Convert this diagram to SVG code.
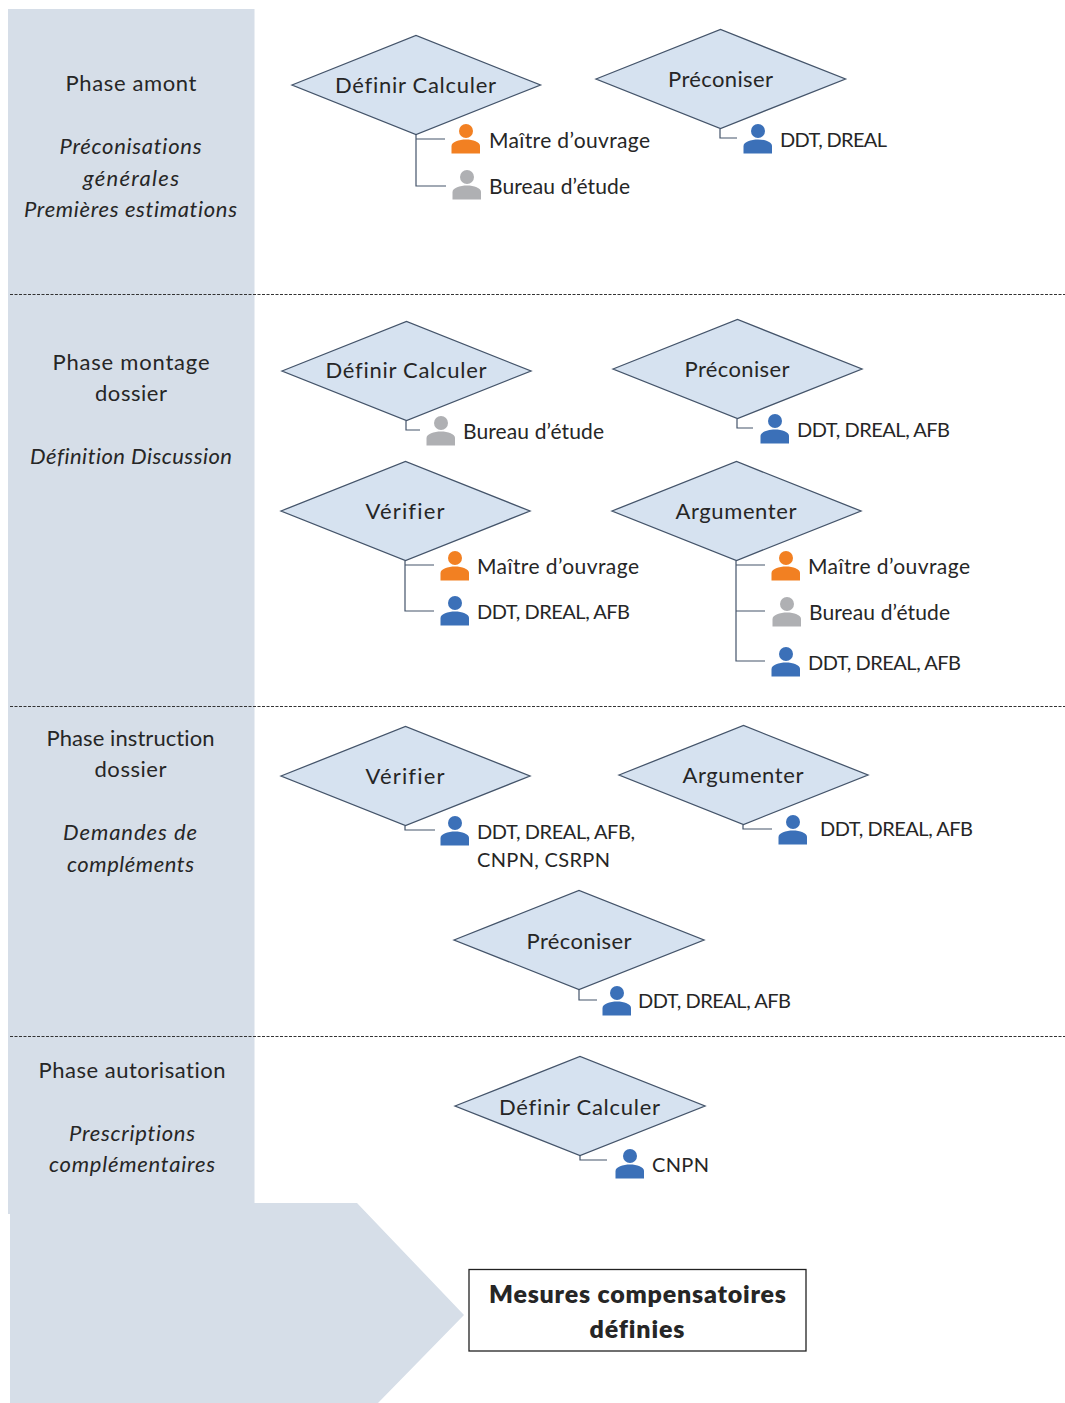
<svg xmlns="http://www.w3.org/2000/svg" xmlns:xlink="http://www.w3.org/1999/xlink" width="1065" height="1403" viewBox="0 0 1065 1403">
<style>
text{font-family:Lato,"Open Sans","Liberation Sans",sans-serif;fill:#262626;font-size:22px;font-variant-ligatures:none}
.c{text-anchor:middle}
.i{font-style:italic;text-anchor:middle}
.l{font-size:21px}
.t{font-size:20px}
.d{fill:#d6e2f0;stroke:#44546a;stroke-width:1.3}
.cn{fill:none;stroke:#44546a;stroke-width:1.2}
.sep{stroke:#333;stroke-width:1;stroke-dasharray:3 1.5;fill:none}
.o{fill:#f28022}.g{fill:#afb0b3}.b{fill:#3b70b8}
</style>
<defs>
<g id="p"><circle cx="0" cy="0" r="7"/><path d="M-14.500,22.500V15C-14.500,11-7,8.500,0,8.500S14,11,14,15V22.500Z"/></g>
</defs>
<g id="bands">
<path d="M8,9H254.500V1203H357L464,1315L378,1403H10V1214H8Z" fill="#d6dee8"/>
<path class="sep" d="M10,294.500H1065M10,706.500H1065M10,1036.500H1065"/>
</g>
<g id="connectors">
<path class="cn" d="M416,135V186H446M416,139H445"/>
<path class="cn" d="M720,129V138H737"/>
<path class="cn" d="M406,421V430H420"/>
<path class="cn" d="M737,419V428H753"/>
<path class="cn" d="M405,561V611H434M405,565H434"/>
<path class="cn" d="M736,561V661H765M736,565H765M736,611H765"/>
<path class="cn" d="M405,826V830H435"/>
<path class="cn" d="M743,825V829H772"/>
<path class="cn" d="M579,990V1000H597"/>
<path class="cn" d="M580,1156V1160H607"/>
</g>
<g id="phase-amont">
<text class="c" x="131" y="91" textLength="131">Phase amont</text>
<text class="i" x="130.500" y="154" textLength="142">Préconisations</text>
<text class="i" x="131" y="186" textLength="96">générales</text>
<text class="i" x="130.500" y="217" textLength="213">Premières estimations</text>
</g>
<g id="phase-montage">
<text class="c" x="131" y="370" textLength="157">Phase montage</text>
<text class="c" x="131" y="401" textLength="72">dossier</text>
<text class="i" x="131" y="464" textLength="202">Définition Discussion</text>
</g>
<g id="phase-instruction">
<text class="c" x="130.500" y="746" textLength="168">Phase instruction</text>
<text class="c" x="130.500" y="777" textLength="72">dossier</text>
<text class="i" x="130" y="840" textLength="134">Demandes de</text>
<text class="i" x="130.500" y="872" textLength="127">compléments</text>
</g>
<g id="phase-autorisation">
<text class="c" x="132" y="1078" textLength="187">Phase autorisation</text>
<text class="i" x="132" y="1141" textLength="126">Prescriptions</text>
<text class="i" x="132" y="1172" textLength="166">complémentaires</text>
</g>
<g id="n1"><path class="d" d="M292,85L416,35.500L540.500,85L416,134.500Z"/><text class="c" x="415.500" y="93" textLength="161">Définir Calculer</text>
<use href="#p" class="o" x="466" y="131"/><text class="l" x="489" y="148" textLength="161">Maître d’ouvrage</text>
<use href="#p" class="g" x="467" y="177"/><text class="l" x="489" y="194" textLength="141">Bureau d’étude</text></g>
<g id="n2"><path class="d" d="M596,79L720.500,29.500L845.500,79L720.500,128.500Z"/><text class="c" x="720.500" y="87" textLength="105">Préconiser</text>
<use href="#p" class="b" x="758" y="131"/><text class="t" x="780" y="147" textLength="107">DDT, DREAL</text></g>
<g id="n3"><path class="d" d="M282,371L406.500,321.500L531,371L406.500,420.500Z"/><text class="c" x="406" y="378" textLength="161">Définir Calculer</text>
<use href="#p" class="g" x="441" y="423"/><text class="l" x="463" y="439" textLength="141">Bureau d’étude</text></g>
<g id="n4"><path class="d" d="M613,369L737.500,319.500L862,369L737.500,418.500Z"/><text class="c" x="737" y="377" textLength="105">Préconiser</text>
<use href="#p" class="b" x="775" y="421"/><text class="t" x="797" y="437" textLength="153">DDT, DREAL, AFB</text></g>
<g id="n5"><path class="d" d="M281,511L405.500,461.500L530,511L405.500,560.500Z"/><text class="c" x="405" y="519" textLength="79">Vérifier</text>
<use href="#p" class="o" x="455" y="558"/><text class="l" x="477" y="574" textLength="162">Maître d’ouvrage</text>
<use href="#p" class="b" x="455" y="603"/><text class="t" x="477" y="619" textLength="153">DDT, DREAL, AFB</text></g>
<g id="n6"><path class="d" d="M612,511L736.500,461.500L861,511L736.500,560.500Z"/><text class="c" x="736" y="519" textLength="121">Argumenter</text>
<use href="#p" class="o" x="786" y="558"/><text class="l" x="808" y="574" textLength="162">Maître d’ouvrage</text>
<use href="#p" class="g" x="787" y="604"/><text class="l" x="809" y="620" textLength="141">Bureau d’étude</text>
<use href="#p" class="b" x="786" y="654"/><text class="t" x="808" y="670" textLength="153">DDT, DREAL, AFB</text></g>
<g id="n7"><path class="d" d="M281,776L405.500,726.500L530,776L405.500,825.500Z"/><text class="c" x="405" y="784" textLength="79">Vérifier</text>
<use href="#p" class="b" x="455" y="823"/><text class="t" x="477" y="839" textLength="158">DDT, DREAL, AFB,</text><text class="t" x="477" y="867" textLength="133">CNPN, CSRPN</text></g>
<g id="n8"><path class="d" d="M619,775L743.500,725.500L868,775L743.500,824.500Z"/><text class="c" x="743" y="783" textLength="121">Argumenter</text>
<use href="#p" class="b" x="793" y="822"/><text class="t" x="820" y="836" textLength="153">DDT, DREAL, AFB</text></g>
<g id="n9"><path class="d" d="M454,940L579,890.500L704,940L579,989.500Z"/><text class="c" x="579" y="949" textLength="105">Préconiser</text>
<use href="#p" class="b" x="617" y="993"/><text class="t" x="638" y="1008" textLength="153">DDT, DREAL, AFB</text></g>
<g id="n10"><path class="d" d="M455,1106L580,1056.500L705,1106L580,1155.500Z"/><text class="c" x="579.500" y="1115" textLength="161">Définir Calculer</text>
<use href="#p" class="b" x="630" y="1156"/><text class="t" x="652" y="1172" textLength="57">CNPN</text></g>
<g id="result"><rect x="469" y="1269.500" width="337" height="81.500" fill="#fff" stroke="#222" stroke-width="1.3"/>
<text class="c" x="637.500" y="1303" style="font-size:25px;font-weight:800" textLength="297">Mesures compensatoires</text>
<text class="c" x="637" y="1338" style="font-size:25px;font-weight:800" textLength="95">définies</text></g>
</svg>
